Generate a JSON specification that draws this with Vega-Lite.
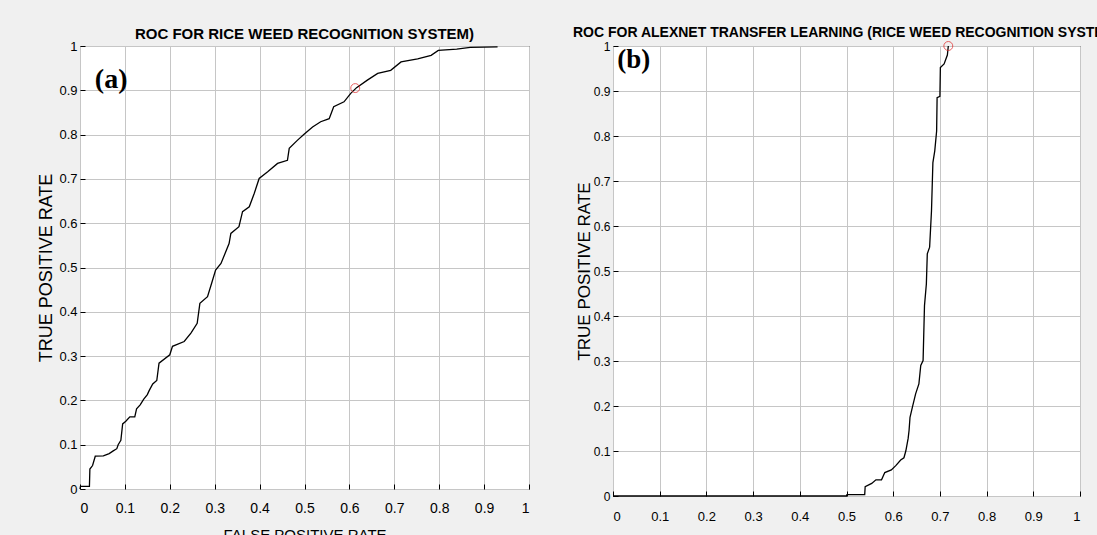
{
  "$schema": "https://vega.github.io/schema/vega-lite/v6.json",
  "background": "#f0f0f0",
  "padding": {"left": 37, "top": 25, "right": 0, "bottom": 0},
  "autosize": {"type": "pad"},
  "spacing": 84,
  "bounds": "flush",
  "config": {
    "font": "Liberation Sans",
    "view": {"fill": "white", "stroke": "black", "strokeWidth": 1},
    "axis": {"grid": true, "gridColor": "#c6c6c6", "gridWidth": 1, "domain": false, "tickColor": "black", "tickSize": -5, "labelColor": "black", "titleColor": "black", "labelFont": "Liberation Sans", "titleFont": "Liberation Sans", "titleFontWeight": "normal"},
    "title": {"font": "Liberation Sans", "fontWeight": "bold", "color": "black", "anchor": "middle"}
  },
  "datasets": {
    "curveA": [
      {"fpr": 0, "tpr": 0}, {"fpr": 0.001, "tpr": 0.006}, {"fpr": 0.021, "tpr": 0.006}, {"fpr": 0.022, "tpr": 0.045},
      {"fpr": 0.028, "tpr": 0.053}, {"fpr": 0.034, "tpr": 0.074}, {"fpr": 0.052, "tpr": 0.075}, {"fpr": 0.065, "tpr": 0.08},
      {"fpr": 0.074, "tpr": 0.086}, {"fpr": 0.082, "tpr": 0.091}, {"fpr": 0.085, "tpr": 0.1}, {"fpr": 0.091, "tpr": 0.11},
      {"fpr": 0.095, "tpr": 0.147}, {"fpr": 0.102, "tpr": 0.153}, {"fpr": 0.111, "tpr": 0.163}, {"fpr": 0.122, "tpr": 0.163},
      {"fpr": 0.126, "tpr": 0.181}, {"fpr": 0.134, "tpr": 0.19}, {"fpr": 0.142, "tpr": 0.203}, {"fpr": 0.15, "tpr": 0.213},
      {"fpr": 0.154, "tpr": 0.222}, {"fpr": 0.162, "tpr": 0.237}, {"fpr": 0.171, "tpr": 0.245}, {"fpr": 0.176, "tpr": 0.284},
      {"fpr": 0.2, "tpr": 0.303}, {"fpr": 0.206, "tpr": 0.322}, {"fpr": 0.232, "tpr": 0.333}, {"fpr": 0.247, "tpr": 0.352},
      {"fpr": 0.261, "tpr": 0.374}, {"fpr": 0.267, "tpr": 0.419}, {"fpr": 0.284, "tpr": 0.434}, {"fpr": 0.293, "tpr": 0.464},
      {"fpr": 0.302, "tpr": 0.494}, {"fpr": 0.314, "tpr": 0.509}, {"fpr": 0.332, "tpr": 0.554}, {"fpr": 0.336, "tpr": 0.577},
      {"fpr": 0.354, "tpr": 0.592}, {"fpr": 0.362, "tpr": 0.626}, {"fpr": 0.377, "tpr": 0.637}, {"fpr": 0.388, "tpr": 0.667},
      {"fpr": 0.399, "tpr": 0.701}, {"fpr": 0.418, "tpr": 0.716}, {"fpr": 0.44, "tpr": 0.735}, {"fpr": 0.462, "tpr": 0.742},
      {"fpr": 0.466, "tpr": 0.769}, {"fpr": 0.484, "tpr": 0.787}, {"fpr": 0.499, "tpr": 0.801}, {"fpr": 0.518, "tpr": 0.817},
      {"fpr": 0.536, "tpr": 0.829}, {"fpr": 0.555, "tpr": 0.836}, {"fpr": 0.565, "tpr": 0.863}, {"fpr": 0.588, "tpr": 0.874},
      {"fpr": 0.603, "tpr": 0.893}, {"fpr": 0.616, "tpr": 0.906}, {"fpr": 0.64, "tpr": 0.923}, {"fpr": 0.663, "tpr": 0.938},
      {"fpr": 0.692, "tpr": 0.945}, {"fpr": 0.715, "tpr": 0.964}, {"fpr": 0.752, "tpr": 0.971}, {"fpr": 0.782, "tpr": 0.979},
      {"fpr": 0.798, "tpr": 0.99}, {"fpr": 0.839, "tpr": 0.993}, {"fpr": 0.869, "tpr": 0.997}, {"fpr": 0.93, "tpr": 0.998}
    ],
    "curveB": [
      {"fpr": 0, "tpr": 0}, {"fpr": 0.5, "tpr": 0}, {"fpr": 0.501, "tpr": 0.003}, {"fpr": 0.539, "tpr": 0.003},
      {"fpr": 0.54, "tpr": 0.021}, {"fpr": 0.554, "tpr": 0.028}, {"fpr": 0.563, "tpr": 0.036}, {"fpr": 0.575, "tpr": 0.036},
      {"fpr": 0.582, "tpr": 0.052}, {"fpr": 0.596, "tpr": 0.058}, {"fpr": 0.606, "tpr": 0.068}, {"fpr": 0.616, "tpr": 0.08},
      {"fpr": 0.623, "tpr": 0.085}, {"fpr": 0.627, "tpr": 0.1}, {"fpr": 0.632, "tpr": 0.128}, {"fpr": 0.634, "tpr": 0.146},
      {"fpr": 0.636, "tpr": 0.175}, {"fpr": 0.641, "tpr": 0.197}, {"fpr": 0.648, "tpr": 0.227}, {"fpr": 0.655, "tpr": 0.249},
      {"fpr": 0.659, "tpr": 0.29}, {"fpr": 0.664, "tpr": 0.301}, {"fpr": 0.667, "tpr": 0.423}, {"fpr": 0.671, "tpr": 0.471},
      {"fpr": 0.673, "tpr": 0.538}, {"fpr": 0.678, "tpr": 0.553}, {"fpr": 0.682, "tpr": 0.634}, {"fpr": 0.685, "tpr": 0.741},
      {"fpr": 0.689, "tpr": 0.767}, {"fpr": 0.693, "tpr": 0.811}, {"fpr": 0.694, "tpr": 0.885}, {"fpr": 0.7, "tpr": 0.888},
      {"fpr": 0.701, "tpr": 0.952}, {"fpr": 0.709, "tpr": 0.96}, {"fpr": 0.716, "tpr": 0.98}, {"fpr": 0.718, "tpr": 1.0}
    ],
    "opA": [{"fpr": 0.613, "tpr": 0.905}],
    "opB": [{"fpr": 0.718, "tpr": 1.0}],
    "labA": [{"label": "(a)"}],
    "labB": [{"label": "(b)"}]
  },
  "hconcat": [
    {
      "width": 449,
      "height": 443,
      "title": {"text": "ROC FOR RICE WEED RECOGNITION SYSTEM)", "fontSize": 15, "offset": -2},
      "layer": [
        {
          "data": {"name": "curveA"},
          "mark": {"type": "line", "color": "black", "strokeWidth": 1.3},
          "encoding": {
            "x": {"field": "fpr", "type": "quantitative", "scale": {"domain": [0, 1], "nice": false},
                  "axis": {"values": [0, 0.1, 0.2, 0.3, 0.4, 0.5, 0.6, 0.7, 0.8, 0.9, 1], "format": ".1~f", "labelFontSize": 14, "labelPadding": 17, "title": "FALSE POSITIVE RATE", "titleFontSize": 15, "titlePadding": 12}},
            "y": {"field": "tpr", "type": "quantitative", "scale": {"domain": [0, 1], "nice": false},
                  "axis": {"values": [0, 0.1, 0.2, 0.3, 0.4, 0.5, 0.6, 0.7, 0.8, 0.9, 1], "format": ".1~f", "labelFontSize": 13, "labelPadding": 8, "title": "TRUE POSITIVE RATE", "titleFontSize": 18, "titlePadding": 3}}
          }
        },
        {
          "data": {"name": "opA"},
          "mark": {"type": "point", "shape": "circle", "filled": false, "color": "#e02020", "size": 80, "strokeWidth": 1},
          "encoding": {"x": {"field": "fpr", "type": "quantitative"}, "y": {"field": "tpr", "type": "quantitative"}}
        },
        {
          "data": {"name": "labA"},
          "mark": {"type": "text", "font": "Liberation Serif", "fontWeight": "bold", "fontSize": 28, "align": "left", "baseline": "alphabetic", "color": "black"},
          "encoding": {"x": {"datum": 0.033, "type": "quantitative"}, "y": {"datum": 0.905, "type": "quantitative"}, "text": {"field": "label"}}
        }
      ]
    },
    {
      "width": 467,
      "height": 450,
      "title": {"text": "ROC FOR ALEXNET TRANSFER LEARNING (RICE WEED RECOGNITION SYSTEM)", "fontSize": 14, "offset": 0},
      "layer": [
        {
          "data": {"name": "curveB"},
          "mark": {"type": "line", "color": "black", "strokeWidth": 1.3},
          "encoding": {
            "x": {"field": "fpr", "type": "quantitative", "scale": {"domain": [0, 1], "nice": false},
                  "axis": {"values": [0, 0.1, 0.2, 0.3, 0.4, 0.5, 0.6, 0.7, 0.8, 0.9, 1], "format": ".1~f", "labelFontSize": 13, "labelPadding": 19, "title": "FALSE POSITIVE RATE", "titleFontSize": 15, "titlePadding": 15}},
            "y": {"field": "tpr", "type": "quantitative", "scale": {"domain": [0, 1], "nice": false},
                  "axis": {"values": [0, 0.1, 0.2, 0.3, 0.4, 0.5, 0.6, 0.7, 0.8, 0.9, 1], "format": ".1~f", "labelFontSize": 12, "labelPadding": 8, "title": "TRUE POSITIVE RATE", "titleFontSize": 17, "titlePadding": 0}}
          }
        },
        {
          "data": {"name": "opB"},
          "mark": {"type": "point", "shape": "circle", "filled": false, "color": "#e02020", "size": 80, "strokeWidth": 1},
          "encoding": {"x": {"field": "fpr", "type": "quantitative"}, "y": {"field": "tpr", "type": "quantitative"}}
        },
        {
          "data": {"name": "labB"},
          "mark": {"type": "text", "font": "Liberation Serif", "fontWeight": "bold", "fontSize": 27, "align": "left", "baseline": "alphabetic", "color": "black"},
          "encoding": {"x": {"datum": 0.009, "type": "quantitative"}, "y": {"datum": 0.952, "type": "quantitative"}, "text": {"field": "label"}}
        }
      ]
    }
  ]
}
